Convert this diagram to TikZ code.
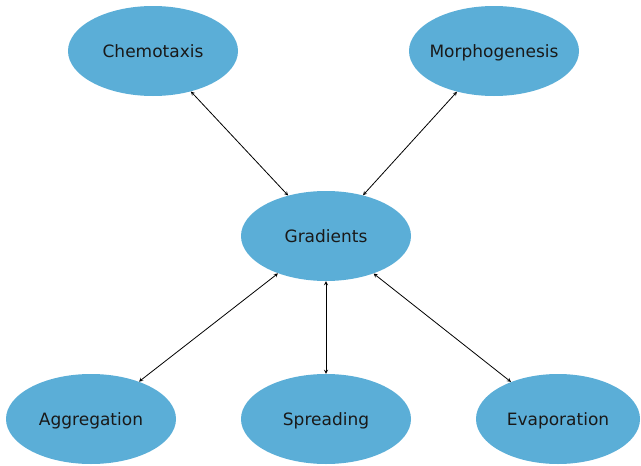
\documentclass[tikz,border=0pt]{standalone}
\usepackage{fontspec}
\setmainfont{DejaVu Sans}
\usetikzlibrary{shapes.geometric}
\definecolor{bubblue}{HTML}{5BAED7}
\begin{document}
\begin{tikzpicture}[x=1pt,y=1pt,>=stealth,
  bubble/.style={ellipse, fill=bubblue, minimum width=170pt, minimum height=90pt, inner sep=0pt, text height=14pt, text depth=1pt, font=\fontsize{17}{19}\selectfont, text=black!90}]
\useasboundingbox (0,0) rectangle (641,-466);
\node[bubble] (chem) at (153,-51) {Chemotaxis};
\node[bubble, inner xsep=-12pt] (morph) at (494,-51) {Morphogenesis};
\node[bubble] (grad) at (326,-236) {Gradients};
\node[bubble] (aggr) at (91,-419) {Aggregation};
\node[bubble] (spread) at (326,-419) {Spreading};
\node[bubble, minimum width=164pt] (evap) at (558,-419) {Evaporation};
\draw[<->, line width=0.8pt] (chem) -- (grad);
\draw[<->, line width=0.8pt] (morph) -- (grad);
\draw[<->, line width=0.8pt] (grad) -- (aggr);
\draw[<->, line width=0.8pt] (grad) -- (spread);
\draw[<->, line width=0.8pt] (grad) -- (evap);
\end{tikzpicture}
\end{document}
